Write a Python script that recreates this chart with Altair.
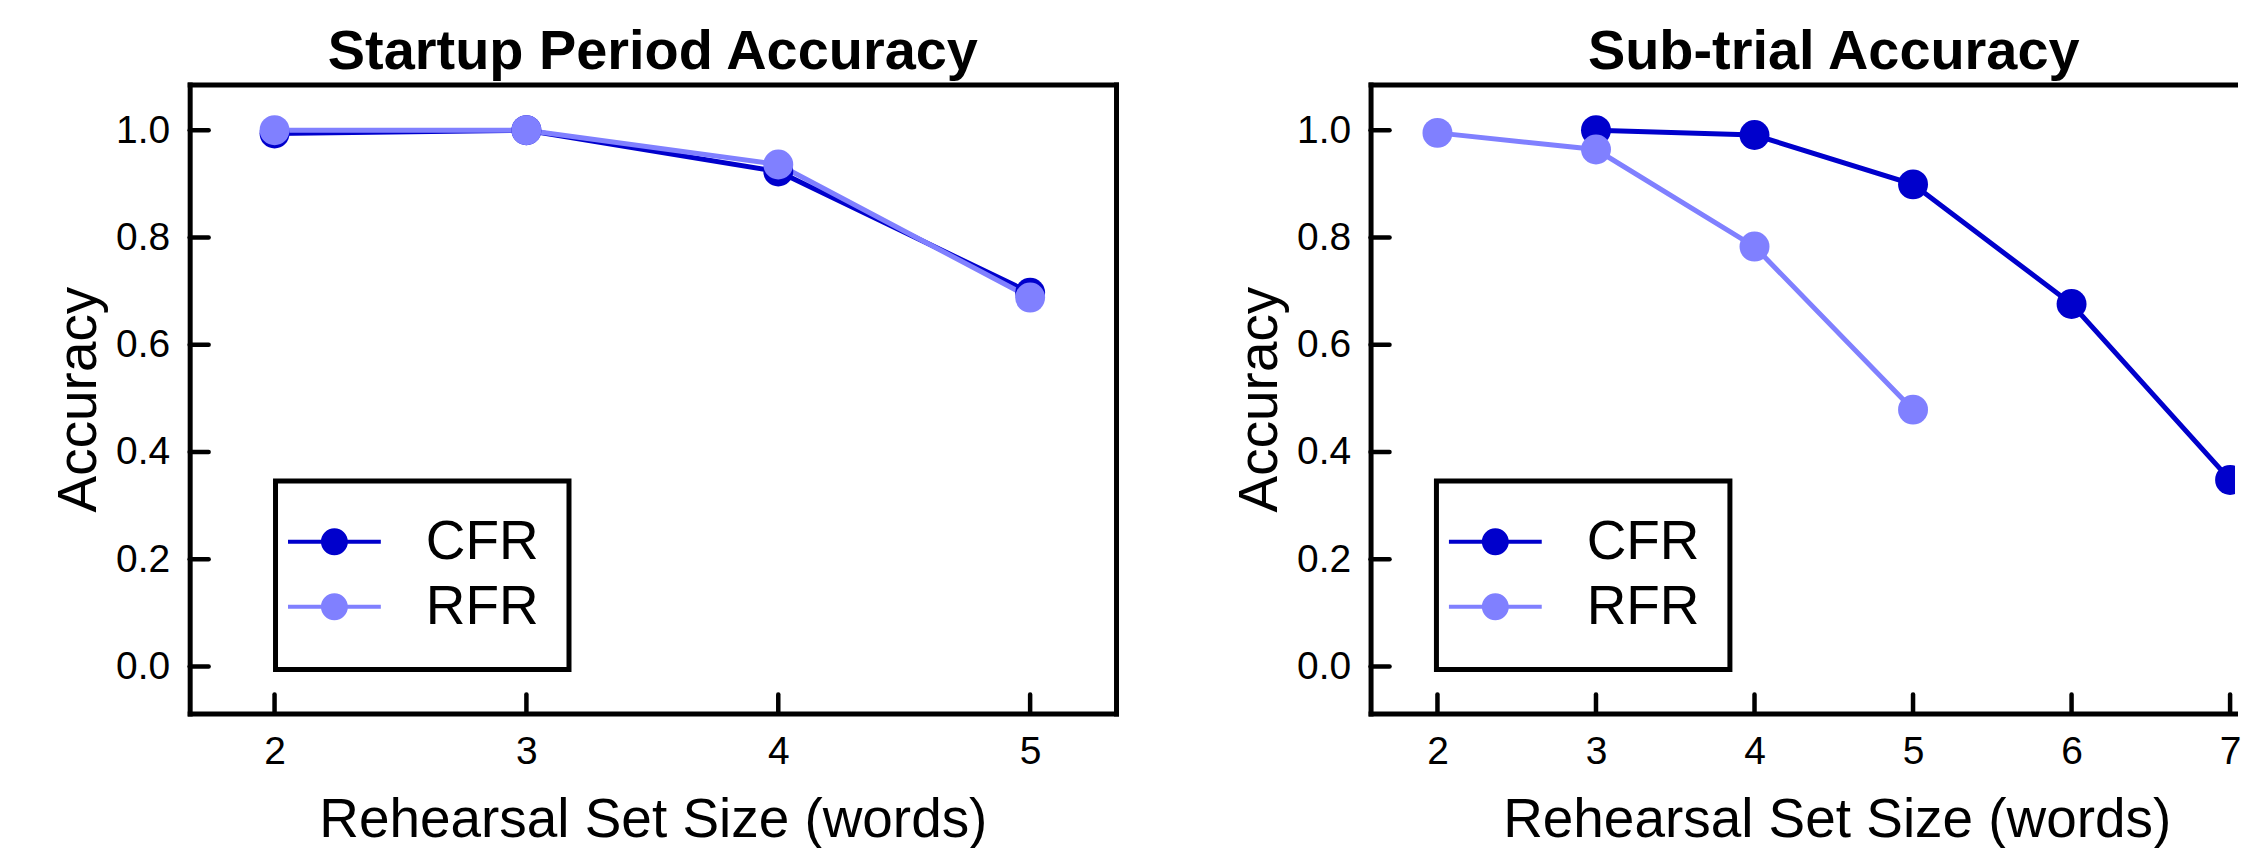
import altair as alt
import pandas as pd

FONT = "Liberation Sans"

# ---------------- data ----------------
series_names = ["CFR", "RFR"]
series_colors = ["#0000CC", "#8080FF"]

startup_cfr_x = [2, 3, 4, 5]
startup_cfr_y = [0.994, 1.000, 0.923, 0.697]
startup_rfr_x = [2, 3, 4, 5]
startup_rfr_y = [1.000, 1.000, 0.936, 0.688]

sub_cfr_x = [3, 4, 5, 6, 7]
sub_cfr_y = [1.000, 0.991, 0.899, 0.676, 0.348]
sub_rfr_x = [2, 3, 4, 5]
sub_rfr_y = [0.995, 0.964, 0.783, 0.479]

y_ticks = [0.0, 0.2, 0.4, 0.6, 0.8, 1.0]
startup_x_ticks = [2, 3, 4, 5]
sub_x_ticks = [2, 3, 4, 5, 6, 7]

panel_titles = ["Startup Period Accuracy", "Sub-trial Accuracy"]
x_title = "Rehearsal Set Size (words)"
y_title = "Accuracy"


def long_df(cfr_x, cfr_y, rfr_x, rfr_y):
    rows = []
    for x, y in zip(cfr_x, cfr_y):
        rows.append({"size": x, "acc": y, "series": "CFR", "lseries": "CFR"})
    for x, y in zip(rfr_x, rfr_y):
        rows.append({"size": x, "acc": y, "series": "RFR", "lseries": "RFR"})
    return pd.DataFrame(rows)


startup_df = long_df(startup_cfr_x, startup_cfr_y, startup_rfr_x, startup_rfr_y)
sub_df = long_df(sub_cfr_x, sub_cfr_y, sub_rfr_x, sub_rfr_y)

# legend symbol: line with a filled circle in the middle (1 unit = 31.2 px);
# the last, zero-area sub-path only extends the entry's bounds downward
SYMBOL = (
    "M-1.49,-0.064 L-0.3,-0.064 L-0.3,0.064 L-1.49,0.064 Z "
    "M0.3,-0.064 L1.49,-0.064 L1.49,0.064 L0.3,0.064 Z "
    "M-0.433,0 A0.433,0.433 0 1,1 0.433,0 A0.433,0.433 0 1,1 -0.433,0 Z "
    "M0,1.051 Z"
)

H = 630
Y_DOMAIN = [-0.0875, 1.085]


def panel(df, x_domain, x_ticks, width, title, legend_x, right_border, clip,
          title_dx, x_title_x):
    xs = alt.Scale(domain=x_domain, nice=False, zero=False)
    ys = alt.Scale(domain=Y_DOMAIN, nice=False, zero=False)
    cs = alt.Scale(domain=series_names, range=series_colors)
    ls = alt.Scale(range=series_colors)

    xaxis_kw = dict(values=x_ticks, format="d", orient="bottom", title=x_title,
                    labelPadding=19, titlePadding=22, labelFlush=False,
                    labelOverlap=False)
    if x_title_x is not None:
        xaxis_kw["titleX"] = x_title_x

    lines = alt.Chart(df).mark_line(strokeWidth=5, clip=clip).encode(
        x=alt.X("size:Q", scale=xs, axis=alt.Axis(**xaxis_kw)),
        y=alt.Y("acc:Q", scale=ys,
                axis=alt.Axis(values=y_ticks, format=".1f", orient="left",
                              title=y_title, labelPadding=20, titlePadding=8,
                              labelFlush=False, labelOverlap=False)),
        stroke=alt.Stroke("lseries:N", scale=ls, legend=None),
    )
    points = alt.Chart(df).mark_point(filled=True, size=900, opacity=1,
                                      clip=clip).encode(
        x=alt.X("size:Q", scale=xs, axis=None),
        y=alt.Y("acc:Q", scale=ys, axis=None),
        color=alt.Color(
            "series:N", scale=cs,
            legend=alt.Legend(
                title=None, orient="none", legendX=legend_x, legendY=397,
                symbolType=SYMBOL, symbolSize=3894, symbolStrokeWidth=0,
                symbolOpacity=1, symbolOffset=-2,
                labelFont=FONT, labelFontSize=55,
                labelColor="black", labelOffset=60, padding=29.5,
                rowPadding=0, strokeColor="black", fillColor="white",
            ),
        ),
    )
    xt = alt.Chart(pd.DataFrame({"xt": x_ticks})).mark_rule(
        strokeWidth=4.5, strokeCap="round", color="black").encode(
        x=alt.X("xt:Q", scale=xs,
                axis=alt.Axis(orient="top", labels=False, ticks=False,
                              title=None, domain=True)),
        y=alt.value(H), y2=alt.value(H - 19),
    )
    yaxis_r = (alt.Axis(orient="right", labels=False, ticks=False, title=None,
                        domain=True) if right_border else None)
    yt = alt.Chart(pd.DataFrame({"yt": y_ticks})).mark_rule(
        strokeWidth=4.5, strokeCap="round", color="black").encode(
        y=alt.Y("yt:Q", scale=ys, axis=yaxis_r),
        x=alt.value(0), x2=alt.value(19),
    )
    layered = alt.layer(xt, yt, lines, points).resolve_axis(
        x="independent", y="independent")
    return layered.properties(
        width=width, height=H,
        title=alt.TitleParams(title, font=FONT, fontSize=56, fontWeight="bold",
                              color="black", offset=4, dx=title_dx,
                              anchor="middle"),
    )


left = panel(startup_df, [1.663, 5.341], startup_x_ticks, 928, panel_titles[0],
             86, True, False, 0, None)
right = panel(sub_df, [1.578, 7.031], sub_x_ticks, 866, panel_titles[1],
              66, False, True, 31, 467)

chart = alt.hconcat(left, right, spacing=116).resolve_legend(
    color="independent", stroke="independent").resolve_scale(
    color="independent", stroke="independent").properties(
    padding={"left": 43, "top": 15, "right": 0, "bottom": 0}
).configure_view(stroke=None).configure_axis(
    domainColor="black", domainWidth=5, domainCap="square",
    labelFont=FONT, labelFontSize=39, labelColor="black",
    titleFont=FONT, titleFontSize=55, titleFontWeight="normal",
    titleColor="black", grid=False, ticks=False,
).configure_legend(strokeWidth=5)

chart.save("out.html", embed_options={"renderer": "svg", "actions": False})
